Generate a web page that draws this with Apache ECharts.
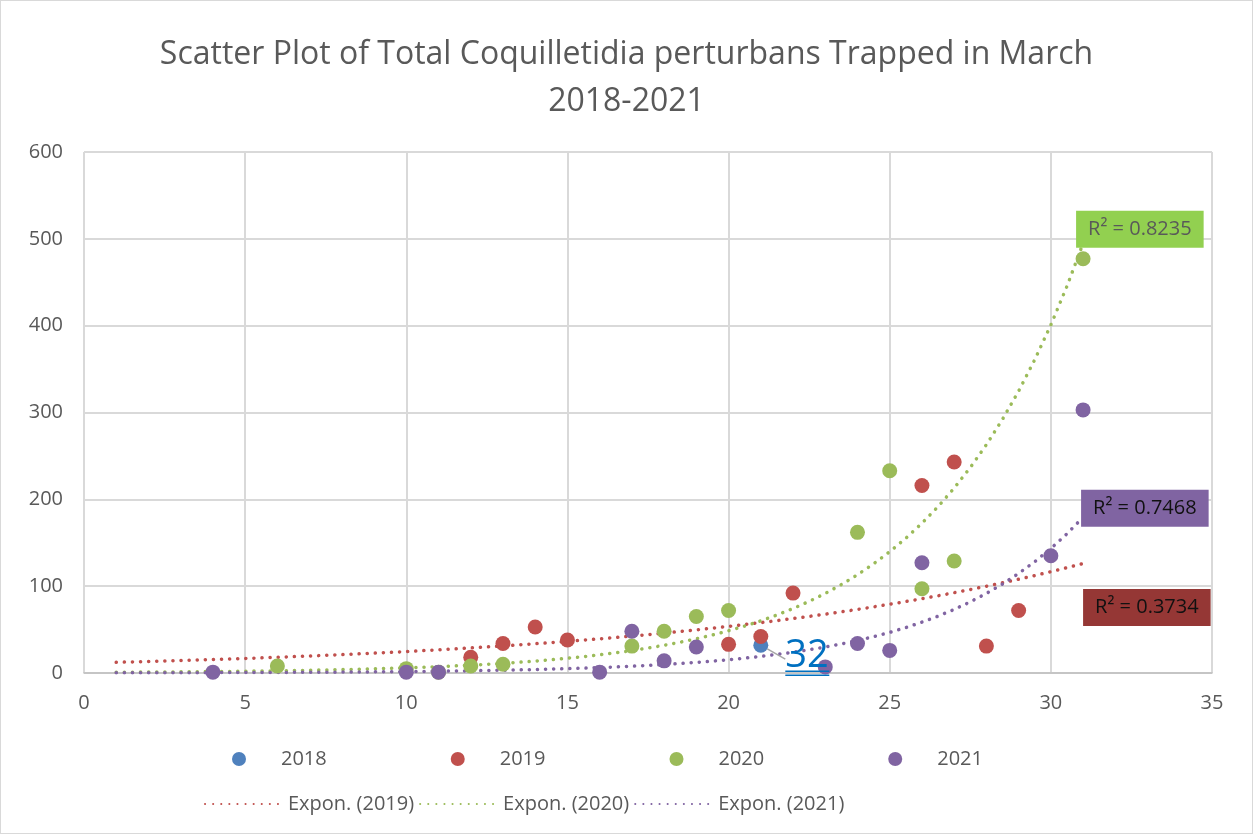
<!DOCTYPE html>
<html>
<head>
<meta charset="utf-8">
<script src="https://cdn.jsdelivr.net/npm/echarts@6/dist/echarts.min.js"></script>
<style>
html,body{margin:0;padding:0;background:#fff;}
#chart{width:1251px;height:832px;border:1px solid #d9d9d9;}
</style>
</head>
<body>
<div id="chart"></div>
<script>
// days of March and number trapped, per year
var days2018 = [21];
var vals2018 = [32];
var days2019 = [12, 13, 14, 15, 20, 21, 22, 26, 27, 28, 29];
var vals2019 = [18, 34, 53, 38, 33, 42, 92, 216, 243, 31, 72];
var days2020 = [6, 10, 11, 12, 13, 17, 18, 19, 20, 24, 25, 26, 27, 31];
var vals2020 = [8, 5, 1, 8, 10, 31, 48, 65, 72, 162, 233, 97, 129, 477];
var days2021 = [4, 10, 11, 16, 17, 18, 19, 23, 24, 25, 26, 30, 31];
var vals2021 = [1, 1, 1, 1, 48, 14, 30, 7, 34, 26, 127, 135, 303];
var years = ['2018', '2019', '2020', '2021'];
var trendNames = ['Expon. (2019)', 'Expon. (2020)', 'Expon. (2021)'];
var r2Labels = ['R² = 0.3734', 'R² = 0.8235', 'R² = 0.7468'];
var trendRange = [1, 31];

function pairs(xs, ys){
	var out = [];
	for(var i = 0; i < xs.length; i++){
		out.push([xs[i], ys[i]]);
	}
	return out;
}

// exponential trendline y = a*e^(bx), least squares on ln(y) like excel
function expTrend(xs, ys){
	var n = xs.length, mx = 0, ml = 0, sxy = 0, sxx = 0;
	for(var i = 0; i < n; i++){ mx += xs[i]; ml += Math.log(ys[i]); }
	mx /= n; ml /= n;
	for(var i = 0; i < n; i++){
		sxy += (xs[i] - mx) * (Math.log(ys[i]) - ml);
		sxx += (xs[i] - mx) * (xs[i] - mx);
	}
	var b = sxy / sxx, la = ml - b * mx;
	var out = [];
	for(var x = trendRange[0]; x <= trendRange[1] + 0.001; x += 0.5){
		out.push([x, Math.exp(la + b * x)]);
	}
	return out;
}

var font = 'Open Sans';
var blue = '#4F81BD', red = '#C0504D', green = '#9BBB59', purple = '#8064A2';

function trendSeries(name, data, color, label, labelBg, labelColor, offset){
	return {
		name: name,
		type: 'line',
		data: data,
		symbol: 'none',
		z: 1,
		lineStyle: {color: color, width: 3.5, type: [0.1, 8], cap: 'round'},
		itemStyle: {color: color},
		endLabel: {
			show: true,
			formatter: label,
			backgroundColor: labelBg,
			color: labelColor,
			fontFamily: font,
			fontSize: 20,
			lineHeight: 20,
			padding: [8.5, 12],
			distance: 0,
			offset: offset
		}
	};
}

function dotSeries(name, data, color){
	return {
		name: name,
		type: 'scatter',
		data: data,
		symbolSize: 15,
		z: 3,
		itemStyle: {color: color, opacity: 1}
	};
}

var myChart = echarts.init(document.getElementById('chart'));
var s2018 = dotSeries(years[0], pairs(days2018, vals2018), blue);
s2018.label = {
	show: true,
	position: 'right',
	distance: 5,
	formatter: function(p){ return '{n|' + p.value[1] + '}\n{u|}\n{g|}\n{u|}'; },
	rich: {
		n: {fontFamily: font, fontSize: 38, color: '#0070C0', lineHeight: 28},
		u: {width: 44, height: 1.5, lineHeight: 2, backgroundColor: '#0070C0'},
		g: {width: 44, height: 2, lineHeight: 2}
	}
};
s2018.labelLayout = {dx: 12, dy: 14};
s2018.labelLine = {show: true, lineStyle: {color: '#a6a6a6', width: 1.5}};

var option = {
	animation: false,
	title: {
		text: 'Scatter Plot of Total Coquilletidia perturbans Trapped in March\n2018-2021',
		left: 'center',
		top: 25,
		textStyle: {fontFamily: font, fontSize: 32, fontWeight: 'normal', color: '#595959', lineHeight: 47}
	},
	legend: [
		{
			data: years,
			top: 748,
			left: 231,
			padding: 0,
			itemWidth: 74,
			itemHeight: 14,
			itemGap: 124,
			icon: 'circle',
			textStyle: {fontFamily: font, fontSize: 20, color: '#595959'}
		},
		{
			data: trendNames,
			top: 793,
			left: 203,
			padding: 0,
			itemWidth: 78,
			itemHeight: 14,
			itemGap: 5,
			itemStyle: {opacity: 0},
			textStyle: {fontFamily: font, fontSize: 20, color: '#595959'}
		}
	],
	grid: {left: 83, right: 40, top: 151, bottom: 160},
	xAxis: {
		type: 'value',
		min: 0,
		max: 35,
		interval: 5,
		axisLine: {lineStyle: {color: '#bfbfbf', width: 1.5}},
		axisTick: {show: false},
		axisLabel: {fontFamily: font, fontSize: 20, color: '#595959', margin: 20},
		splitLine: {lineStyle: {color: '#d9d9d9', width: 2}}
	},
	yAxis: {
		type: 'value',
		min: 0,
		max: 600,
		interval: 100,
		axisLine: {show: false},
		axisTick: {show: false},
		axisLabel: {fontFamily: font, fontSize: 20, color: '#595959', margin: 21},
		splitLine: {lineStyle: {color: '#d9d9d9', width: 2}}
	},
	series: [
		trendSeries(trendNames[0], expTrend(days2019, vals2019), red, r2Labels[0], '#953735', '#111', [0, 44]),
		trendSeries(trendNames[1], expTrend(days2020, vals2020), green, r2Labels[1], '#92D050', '#595959', [-7, -14]),
		trendSeries(trendNames[2], expTrend(days2021, vals2021), purple, r2Labels[2], '#8064A2', '#111', [-2, -9]),
		s2018,
		dotSeries(years[1], pairs(days2019, vals2019), red),
		dotSeries(years[2], pairs(days2020, vals2020), green),
		dotSeries(years[3], pairs(days2021, vals2021), purple)
	]
};
myChart.setOption(option);
</script>
</body>
</html>
